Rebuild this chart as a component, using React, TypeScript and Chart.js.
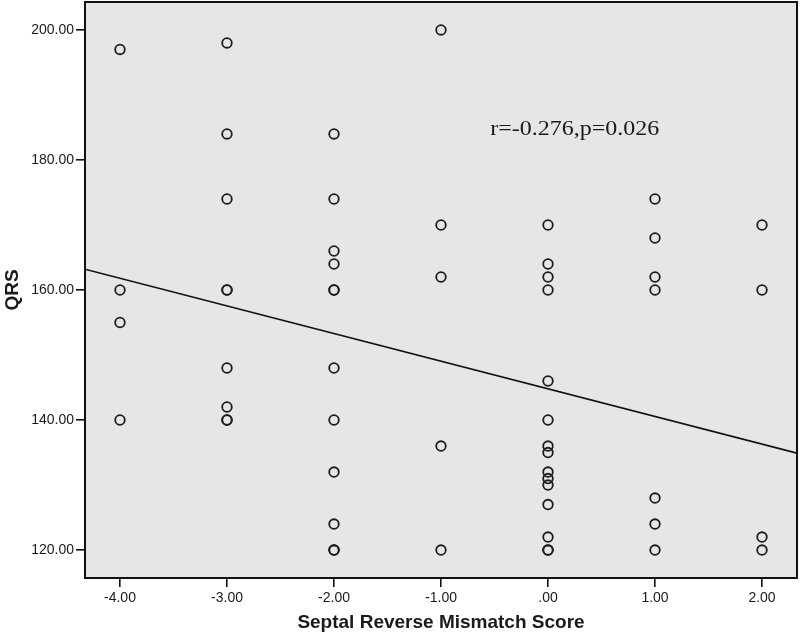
import React, { useEffect, useRef } from "react";
import { Chart, registerables } from "chart.js";

Chart.register(...registerables);

// Septal Reverse Mismatch Score (x) and QRS (y), one entry per patient
const mismatchScore = [
  -4, -4, -4, -4,
  -3, -3, -3, -3, -3, -3, -3, -3, -3,
  -2, -2, -2, -2, -2, -2, -2, -2, -2, -2, -2, -2,
  -1, -1, -1, -1, -1,
  0, 0, 0, 0, 0, 0, 0, 0, 0, 0, 0, 0, 0, 0, 0,
  1, 1, 1, 1, 1, 1, 1,
  2, 2, 2, 2,
];
const qrs = [
  197, 160, 155, 140,
  198, 184, 174, 160, 160, 148, 142, 140, 140,
  184, 174, 166, 164, 160, 160, 148, 140, 132, 124, 120, 120,
  200, 170, 162, 136, 120,
  170, 164, 162, 160, 146, 140, 136, 135, 132, 131, 130, 127, 122, 120, 120,
  174, 168, 162, 160, 128, 124, 120,
  170, 160, 122, 120,
];

const xTicks = [-4, -3, -2, -1, 0, 1, 2];
const yTicks = [120, 140, 160, 180, 200];
const xMin = -4.327;
const xMax = 2.327;
const yMin = 115.7;
const yMax = 204.3;

// fitted regression line
const fitIntercept = 144.8;
const fitSlope = -4.25;

const annotationText = "r=-0.276,p=0.026";
const annotationAt = { x: -0.54, y: 183.8 };

const xTitle = "Septal Reverse Mismatch Score";
const yTitle = "QRS";

const fmtX = (v: number) => (v === 0 ? ".00" : v.toFixed(2));
const fmtY = (v: number) => v.toFixed(2);

const plotPlugin = {
  id: "plotFrame",
  beforeDraw(chart: any) {
    const { ctx, chartArea } = chart;
    const { left, top, right, bottom } = chartArea;
    ctx.save();
    ctx.fillStyle = "#ffffff";
    ctx.fillRect(0, 0, chart.width, chart.height);
    ctx.fillStyle = "#e6e6e6";
    ctx.fillRect(left, top, right - left, bottom - top);
    ctx.restore();
  },
  afterDraw(chart: any) {
    const { ctx, chartArea, scales } = chart;
    const { left, top, right, bottom } = chartArea;
    ctx.save();
    ctx.strokeStyle = "#111111";
    ctx.lineWidth = 2;
    ctx.strokeRect(left, top, right - left, bottom - top);
    const px = scales.x.getPixelForValue(annotationAt.x);
    const py = scales.y.getPixelForValue(annotationAt.y);
    ctx.translate(px, py);
    ctx.scale(1.2, 1);
    ctx.fillStyle = "#1a1a1a";
    ctx.font = '20px "Liberation Serif", "Times New Roman", serif';
    ctx.textBaseline = "alphabetic";
    ctx.textAlign = "left";
    ctx.fillText(annotationText, 0, 0);
    ctx.restore();
  },
};

export default function App() {
  const ref = useRef<HTMLCanvasElement | null>(null);

  useEffect(() => {
    if (!ref.current) return;
    const points = mismatchScore.map((x, i) => ({ x, y: qrs[i] }));
    const fit = [xMin, xMax].map((x) => ({ x, y: fitIntercept + fitSlope * x }));

    const tickFont = { family: '"Liberation Sans", Arial, sans-serif', size: 14 };
    const titleFont = { family: '"Liberation Sans", Arial, sans-serif', size: 19, weight: "bold" as const };

    const chart = new Chart(ref.current, {
      type: "scatter",
      data: {
        datasets: [
          {
            type: "scatter",
            data: points,
            pointRadius: 4.8,
            pointHoverRadius: 4.8,
            pointBorderWidth: 1.8,
            pointBorderColor: "#1c1c1c",
            pointBackgroundColor: "rgba(0,0,0,0)",
          },
          {
            type: "line",
            data: fit,
            showLine: true,
            borderColor: "#111111",
            borderWidth: 1.6,
            pointRadius: 0,
            fill: false,
          } as any,
        ],
      },
      options: {
        responsive: false,
        animation: false,
        layout: { autoPadding: false, padding: { top: 2, right: 3, left: 0, bottom: 0 } },
        plugins: {
          legend: { display: false },
          title: { display: false },
          tooltip: { enabled: false },
        },
        scales: {
          x: {
            type: "linear",
            min: xMin,
            max: xMax,
            afterBuildTicks: (s: any) => {
              s.ticks = xTicks.map((value) => ({ value }));
            },
            afterFit: (s: any) => {
              s.height = 62;
              s.paddingLeft = 0;
              s.paddingRight = 0;
            },
            grid: {
              drawOnChartArea: false,
              drawTicks: true,
              tickLength: 9,
              color: "#111111",
              lineWidth: 1.6,
            },
            border: { display: false },
            ticks: {
              callback: (v: any) => fmtX(Number(v)),
              font: tickFont,
              color: "#1a1a1a",
              padding: 3,
              maxRotation: 0,
              autoSkip: false,
            },
            title: {
              display: true,
              text: xTitle,
              font: titleFont,
              color: "#1a1a1a",
              padding: { top: 0, bottom: 6 },
            },
          },
          y: {
            type: "linear",
            min: yMin,
            max: yMax,
            afterBuildTicks: (s: any) => {
              s.ticks = yTicks.map((value) => ({ value }));
            },
            afterFit: (s: any) => {
              s.width = 85;
              s.paddingTop = 0;
              s.paddingBottom = 0;
            },
            grid: {
              drawOnChartArea: false,
              drawTicks: true,
              tickLength: 9,
              color: "#111111",
              lineWidth: 1.6,
            },
            border: { display: false },
            ticks: {
              callback: (v: any) => fmtY(Number(v)),
              font: tickFont,
              color: "#1a1a1a",
              padding: 2,
              autoSkip: false,
            },
            title: {
              display: true,
              text: yTitle,
              font: titleFont,
              color: "#1a1a1a",
              padding: { top: 1, bottom: 0 },
            },
          },
        },
      },
      plugins: [plotPlugin],
    });
    return () => chart.destroy();
  }, []);

  return (
    <div style={{ position: "fixed", left: 0, top: 0, width: 800, height: 640, background: "#fff" }}>
      <canvas ref={ref} width={800} height={640} />
    </div>
  );
}
